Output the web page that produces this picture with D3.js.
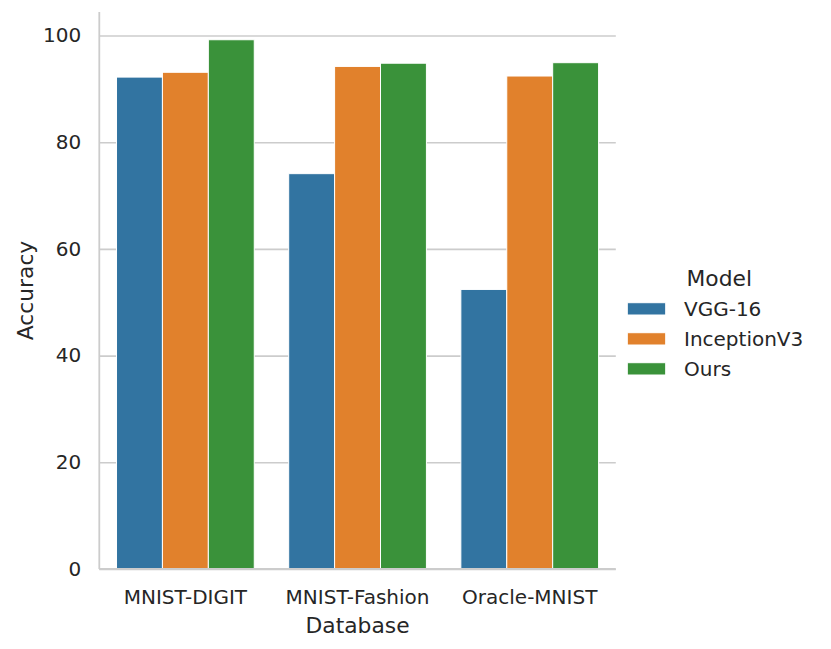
<!DOCTYPE html>
<html>
<head>
<meta charset="utf-8">
<script src="https://cdn.jsdelivr.net/npm/d3@7"></script>
<style>
  body { margin: 0; background: #fff; }
  text { font-family: "DejaVu Sans", sans-serif; fill: #262626; }
</style>
</head>
<body>
<div id="chart"></div>
<script>
// data
let databases = ["MNIST-DIGIT", "MNIST-Fashion", "Oracle-MNIST"];
let models = ["VGG-16", "InceptionV3", "Ours"];
let vgg16 = [92.2, 74.1, 52.4];
let inceptionV3 = [93.1, 94.2, 92.4];
let ours = [99.2, 94.8, 94.9];
let yTicks = [0, 20, 40, 60, 80, 100];
let modelColors = ["#3274a1", "#e1812c", "#3a923a"];

let margin = { left: 99.3, right: 215.2, top: 12, bottom: 80 };
let chart_width = 831 - margin.left - margin.right;
let chart_height = 649 - margin.top - margin.bottom;

let svg = d3
  .select("#chart")
  .append("svg")
  .attr("width", 831)
  .attr("height", 649);

let g = svg
  .append("g")
  .attr("transform", `translate(${margin.left},${margin.top})`);

// one row per database, one column per model
let seriesValues = [vgg16, inceptionV3, ours];
let rows = databases.map((db, i) => {
  let row = { database: db };
  models.forEach((m, j) => {
    row[m] = seriesValues[j][i];
  });
  return row;
});

/*   Scales   */
let x0 = d3
  .scaleBand()
  .domain(databases)
  .range([0, chart_width])
  .paddingInner(0.2)
  .paddingOuter(0.1);

let x1 = d3.scaleBand().domain(models).range([0, x0.bandwidth()]);

let y = d3.scaleLinear().domain([0, 104.4]).range([chart_height, 0]);

let color = d3.scaleOrdinal().domain(models).range(modelColors);

/*   Axis   */
// y axis with gridlines, drawn first so the bars sit on top
let yAxis = d3
  .axisLeft(y)
  .tickValues(yTicks)
  .tickSizeInner(-chart_width)
  .tickSizeOuter(0)
  .tickPadding(18);

let yg = g.append("g").attr("class", "y-axis").call(yAxis);
yg.selectAll(".tick line").attr("stroke", "#cccccc").attr("stroke-width", 1.6);
yg.selectAll(".tick text").attr("font-size", "20px").attr("fill", "#262626");
yg.select(".domain").remove();

// bars
g.append("g")
  .selectAll(".group")
  .data(rows)
  .enter()
  .append("g")
  .attr("class", "group")
  .attr("transform", (d) => `translate(${x0(d.database)},0)`)
  .selectAll("rect")
  .data((d) => models.map((m) => ({ key: m, value: d[m] })))
  .enter()
  .append("rect")
  .attr("x", (d) => x1(d.key))
  .attr("y", (d) => y(d.value))
  .attr("width", x1.bandwidth())
  .attr("height", (d) => y(0) - y(d.value))
  .attr("fill", (d) => color(d.key))
  .attr("stroke", "#ffffff")
  .attr("stroke-width", 1);

// x axis
let xAxis = d3.axisBottom(x0).tickSize(0).tickPadding(21);
let xg = g
  .append("g")
  .attr("class", "x-axis")
  .attr("transform", `translate(0,${chart_height})`)
  .call(xAxis);
xg.select(".domain").remove();
xg.selectAll(".tick text").attr("font-size", "20px").attr("fill", "#262626");

// spines (left + bottom only)
g.append("line")
  .attr("x1", 0)
  .attr("x2", 0)
  .attr("y1", 0)
  .attr("y2", chart_height)
  .attr("stroke", "#cccccc")
  .attr("stroke-width", 1.8);
g.append("line")
  .attr("x1", 0)
  .attr("x2", chart_width)
  .attr("y1", chart_height)
  .attr("y2", chart_height)
  .attr("stroke", "#cccccc")
  .attr("stroke-width", 1.8);

/* Axis Labels */
g.append("text")
  .attr("x", chart_width / 2)
  .attr("y", chart_height + 64)
  .attr("font-size", "21.8px")
  .attr("text-anchor", "middle")
  .text("Database");

g.append("text")
  .attr("x", -chart_height / 2)
  .attr("y", 33.3 - margin.left)
  .attr("font-size", "21.8px")
  .attr("text-anchor", "middle")
  .attr("transform", "rotate(-90)")
  .text("Accuracy");

/*   Legend   */
let legend = svg.append("g").attr("transform", "translate(627.3,0)");

legend
  .append("text")
  .attr("x", 92)
  .attr("y", 285.7)
  .attr("font-size", "21.8px")
  .attr("text-anchor", "middle")
  .text("Model");

models.forEach((m, i) => {
  let legendRow = legend
    .append("g")
    .attr("transform", `translate(0,${302.7 + i * 30})`);

  legendRow
    .append("rect")
    .attr("width", 38.4)
    .attr("height", 12.3)
    .attr("fill", color(m))
    .attr("stroke", "#ffffff")
    .attr("stroke-width", 1);

  legendRow
    .append("text")
    .attr("x", 56.7)
    .attr("y", 13.5)
    .attr("font-size", "20px")
    .text(m);
});
</script>
</body>
</html>
